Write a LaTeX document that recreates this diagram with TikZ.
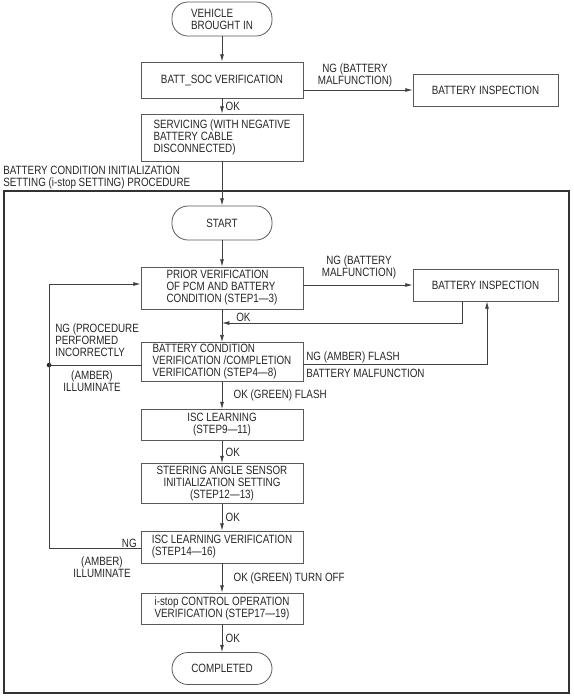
\documentclass[tikz,border=0pt]{standalone}
\usepackage{fontspec}
\setmainfont{Liberation Sans}[FakeStretch=0.82]
\usetikzlibrary{positioning,arrows.meta}
\tikzset{box/.style={draw=black!65,line width=0.6pt,minimum width=121.5pt,inner sep=0pt,align=center}}
\tikzset{term/.style={draw=black!65,line width=0.6pt,rounded corners=12pt,minimum width=75pt,minimum height=25.5pt,inner sep=0pt}}
\tikzset{flow/.style={->,>={Latex[length=5.5pt,width=3pt]},line width=0.6pt,draw=black!75}}
\tikzset{lbl/.style={inner sep=0pt}}
\tikzset{okl/.style={lbl,anchor=west,xshift=2.5pt}}
\tikzset{frame/.style={line width=1.3pt,draw=black!80}}

\begin{document}
\begin{tikzpicture}[x=0.75pt,y=-0.75pt,font=\fontsize{9}{9}\selectfont,text=black!85]
  \useasboundingbox (0,0) rectangle (574,697);
  \node[term,align=left] (vehicle) at (222,19) {VEHICLE\\BROUGHT IN};
  \node[box,minimum height=27pt] (battsoc) at (222,80) {BATT\_SOC VERIFICATION};
  \node[box,minimum width=108.75pt,minimum height=24pt] (inspA) at (485.5,90) {BATTERY INSPECTION};
  \node[box,align=left,minimum height=35.25pt] (serv) at (222,137.5) {SERVICING (WITH NEGATIVE\\BATTERY CABLE\\DISCONNECTED)};
  \node[lbl,anchor=west,align=left] (title) at (3,178) {BATTERY CONDITION INITIALIZATION\\SETTING (i-stop SETTING) PROCEDURE};
  \draw[frame] (4,191) rectangle (569,693);
  \node[term] (start) at (222,223) {START};
  \node[box,align=left,minimum height=31.5pt] (prior) at (222,288) {PRIOR VERIFICATION\\OF PCM AND BATTERY\\CONDITION (STEP1---3)};
  \node[box,minimum width=108.75pt,minimum height=24pt] (inspB) at (485.5,285) {BATTERY INSPECTION};
  \node[box,align=left,minimum height=29pt] (cond) at (222,362) {BATTERY CONDITION\\VERIFICATION /COMPLETION\\VERIFICATION (STEP4---8)};
  \node[box,minimum height=23.25pt] (isc) at (222,425) {ISC LEARNING\\(STEP9---11)};
  \node[box,minimum height=30pt] (steer) at (222,483.5) {STEERING ANGLE SENSOR\\INITIALIZATION SETTING\\(STEP12---13)};
  \node[box,align=left,minimum height=24pt] (isclv) at (222,547) {ISC LEARNING VERIFICATION\\(STEP14---16)};
  \node[box,minimum height=23.25pt] (istop) at (222,608.5) {i-stop CONTROL OPERATION\\VERIFICATION (STEP17---19)};
  \node[term,minimum height=24pt] (done) at (222,668.5) {COMPLETED};
  \coordinate (okturn) at (462,323);
  \coordinate (ngup) at (487,364);
  \coordinate (loopdot) at (49,365);
  \coordinate (loopbot) at (49,548);
  \coordinate (looptop) at (49,284);
  \draw[flow] (vehicle) -- (battsoc);
  \draw[flow] (battsoc.east |- inspA.west) -- (inspA);
  \node[lbl,align=center] (ngA) at (355,75) {NG (BATTERY\\MALFUNCTION)};
  \draw[flow] (battsoc) -- node[okl]{OK} (serv);
  \draw[flow] (serv) -- (start);
  \draw[flow] (start) -- (prior);
  \draw[flow] (prior.east |- inspB.west) -- (inspB);
  \node[lbl,align=center] (ngB) at (359,267) {NG (BATTERY\\MALFUNCTION)};
  \draw[flow] (inspB.south -| okturn) -- (okturn) -- (okturn -| prior.south);
  \node[lbl,anchor=west] (okB) at (236,317) {OK};
  \draw[flow] (prior) -- (cond);
  \draw[flow] (cond.east |- ngup) -- (ngup) -- (ngup |- inspB.south);
  \node[lbl,anchor=west] (ngC) at (306,357) {NG (AMBER) FLASH};
  \node[lbl,anchor=west] (malC) at (306,373) {BATTERY MALFUNCTION};
  \draw[black!75,line width=0.6pt] (cond.west |- loopdot) -- (loopdot);
  \fill[black!85] (loopdot) circle (1.7pt);
  \draw[flow] (isclv.west |- loopbot) -- (loopbot) -- (looptop) -- (looptop -| prior.west);
  \node[lbl,anchor=west,align=left] (ngD) at (55,340) {NG (PROCEDURE\\PERFORMED\\INCORRECTLY};
  \node[lbl,align=center] (ambD) at (92,381) {(AMBER)\\ILLUMINATE};
  \node[lbl,anchor=east] (ngE) at (137,543) {NG};
  \node[lbl,align=center] (ambE) at (102,567) {(AMBER)\\ILLUMINATE};
  \draw[flow] (cond) -- node[okl,xshift=6pt]{OK (GREEN) FLASH} (isc);
  \draw[flow] (isc) -- node[okl]{OK} (steer);
  \draw[flow] (steer) -- node[okl]{OK} (isclv);
  \draw[flow] (isclv) -- node[okl,xshift=6pt]{OK (GREEN) TURN OFF} (istop);
  \draw[flow] (istop) -- node[okl]{OK} (done);
\end{tikzpicture}
\end{document}
